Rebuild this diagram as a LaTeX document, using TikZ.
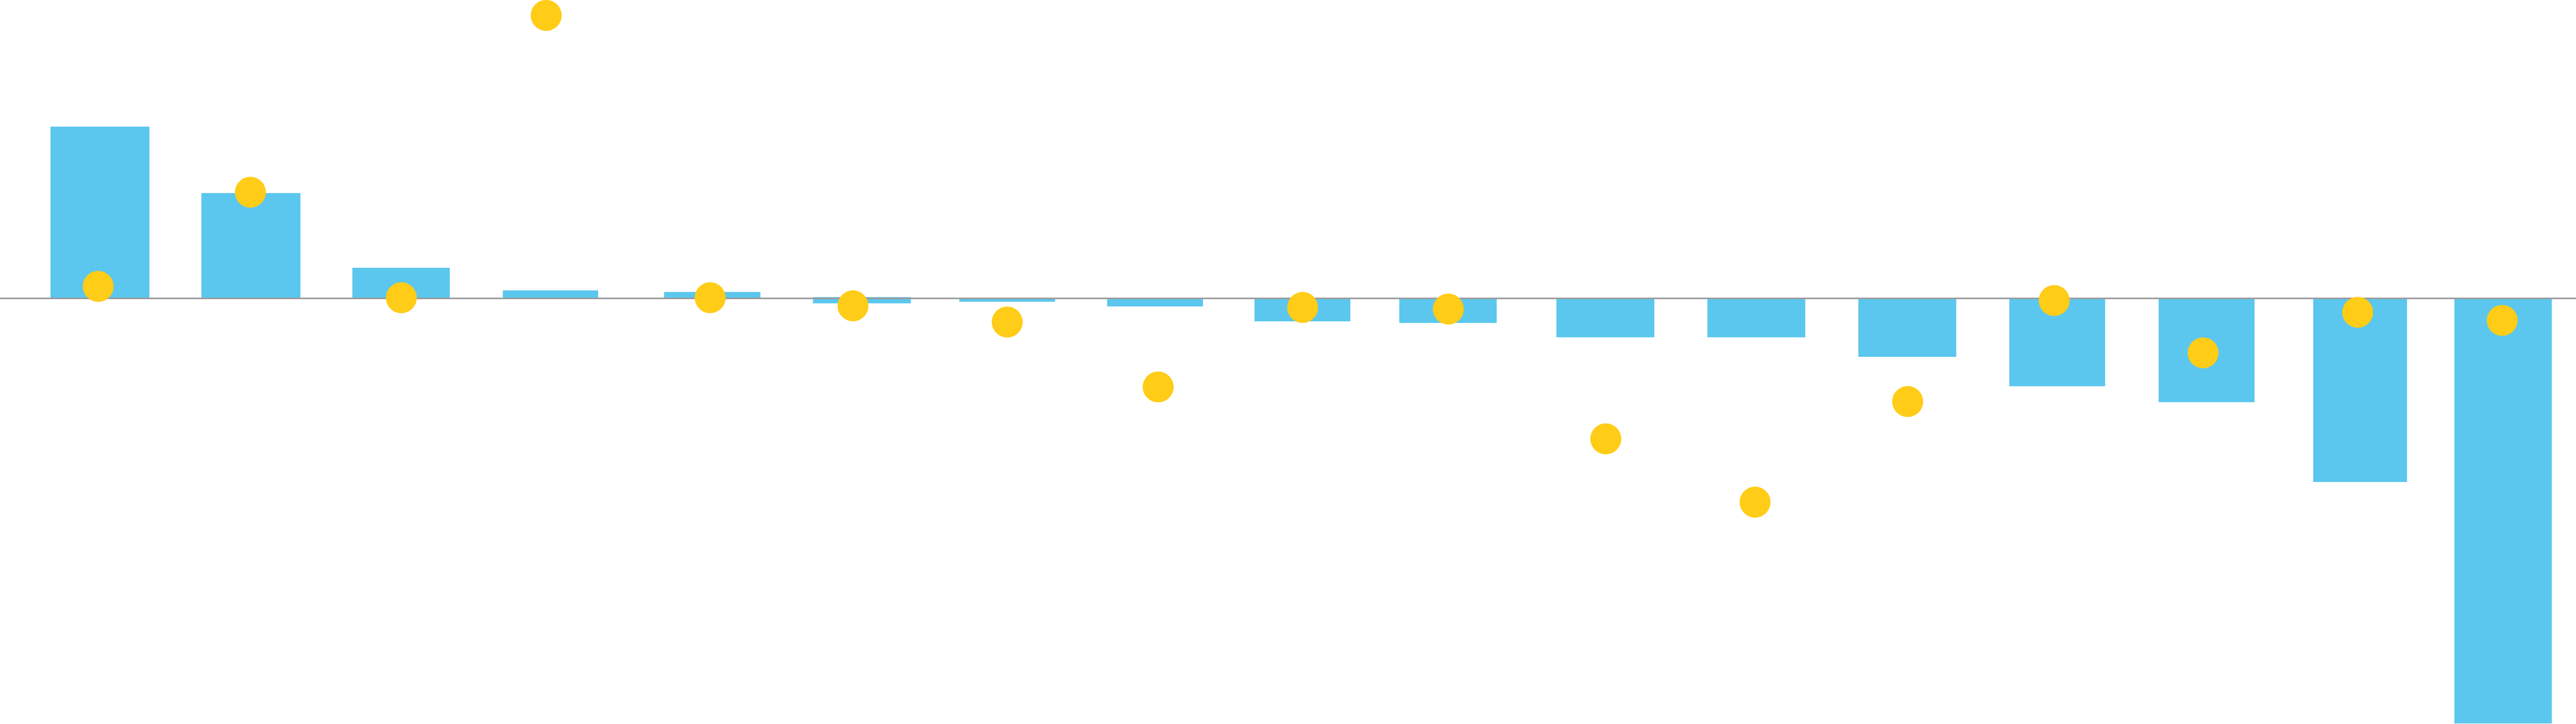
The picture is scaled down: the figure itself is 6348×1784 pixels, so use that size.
\documentclass[tikz,border=0pt]{standalone}
\definecolor{barblue}{HTML}{5BC7EE}
\definecolor{dotyellow}{HTML}{FFCC17}
\definecolor{axisgray}{HTML}{9B9B9E}
\tikzset{
  barfill/.style={fill=barblue, draw=none},
  dotfill/.style={fill=dotyellow, draw=none},
  axisline/.style={draw=axisgray, line width=0.04cm},
}
\begin{document}
\begin{tikzpicture}[x=0.01cm, y=-0.01cm]
\useasboundingbox[fill=white] (0,0) rectangle (6348,1784);
% bars
\foreach \xa/\xb/\ya/\yb in {
  124/368/312/736, 496/740/476/736, 868/1108/660/736, 1239/1474/716/736,
  1636/1874/720/736, 2004/2244/732/748, 2364/2600/736/744, 2728/2964/736/756,
  3092/3328/736/792, 3448/3688/736/796, 3836/4076/736/832, 4208/4448/736/832,
  4580/4820/736/880, 4952/5188/736/952, 5320/5556/736/992, 5700/5932/736/1188,
  6048/6288/736/1784}
  \path[barfill] (\xa,\ya) rectangle (\xb,\yb);
% axis
\coordinate (axL) at (0,736);
\coordinate (axR) at (6348,736);
\draw[axisline] (axL) -- (axR);
% dots
\foreach \cx/\cy in {242/706, 617/474, 989/734, 1346/38, 1750/734, 2102/754,
  2482/794, 2854/954, 3210/758, 3569/762, 3957/1082, 4325/1238, 4701/990,
  5062/741, 5429/870, 5810/770, 6166/790}
  \path[dotfill] (\cx,\cy) circle[radius=0.38cm];
\end{tikzpicture}
\end{document}
